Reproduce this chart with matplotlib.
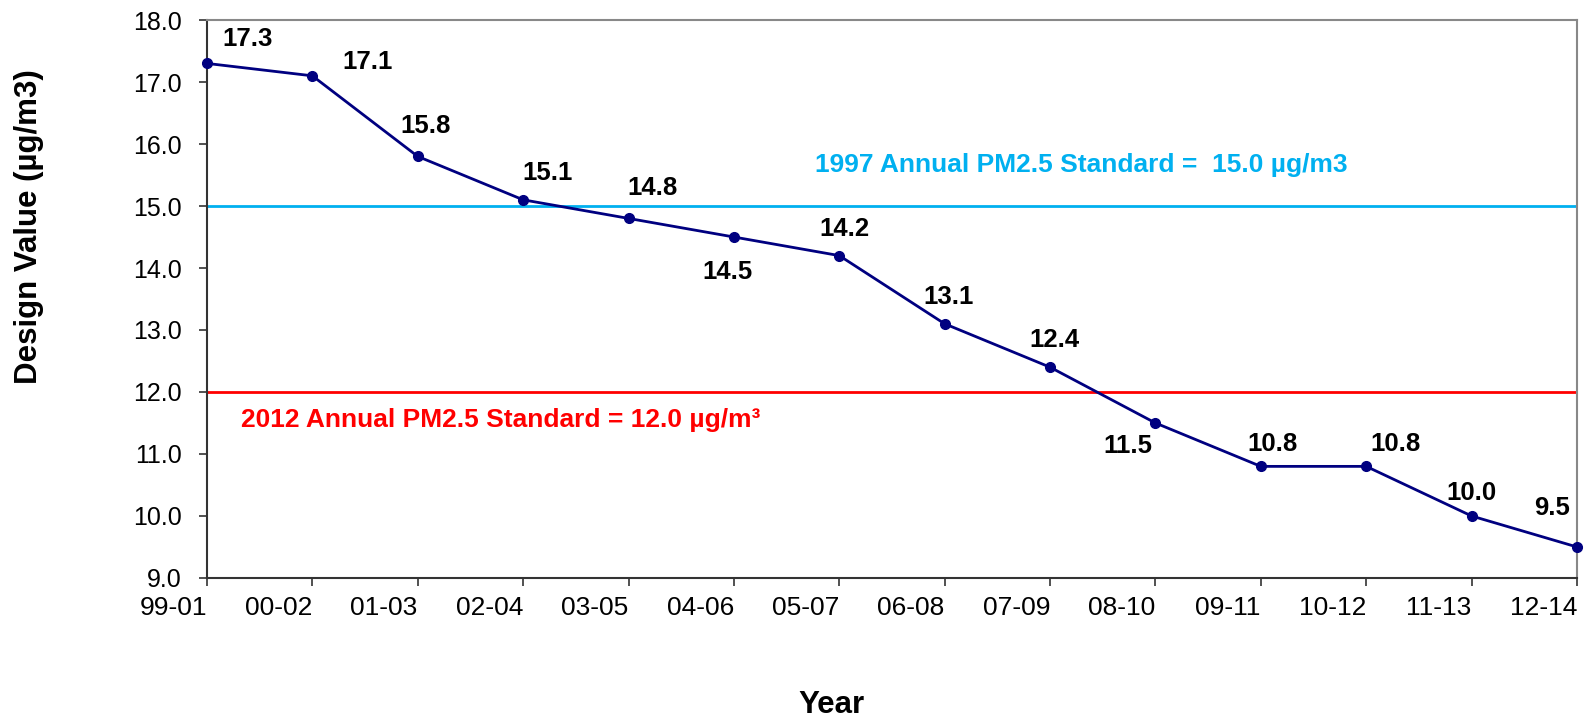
import matplotlib
matplotlib.use('Agg')
import matplotlib.pyplot as plt
import numpy as np

plt.rcParams['font.family'] = ['Liberation Sans', 'DejaVu Sans']

years = ['99-01', '00-02', '01-03', '02-04', '03-05', '04-06', '05-07',
         '06-08', '07-09', '08-10', '09-11', '10-12', '11-13', '12-14']
design_values = [17.3, 17.1, 15.8, 15.1, 14.8, 14.5, 14.2,
                 13.1, 12.4, 11.5, 10.8, 10.8, 10.0, 9.5]
std_1997 = 15.0
std_2012 = 12.0

# label offsets in pixels (dx, dy)
label_offsets = [(41, 24), (55, 14), (8, 30), (24, 27), (24, 30), (-6, -35), (5, 27),
                 (4, 27), (4, 27), (-28, -23), (12, 22), (29, 22), (0, 23), (-25, 39)]

fig = plt.figure(figsize=(15.86, 7.23), dpi=100)
ax = fig.add_axes([0.1305, 0.2006, 0.9943 - 0.1305, 0.9723 - 0.2006])

x = np.arange(len(years))

ax.axhline(std_1997, color='#00B0F0', lw=2, zorder=1)
ax.axhline(std_2012, color='#FF0000', lw=2, zorder=1)

ax.plot(x, design_values, color='#000080', lw=2, marker='o', ms=7,
        clip_on=False, zorder=3)

for xi, v, (dx, dy) in zip(x, design_values, label_offsets):
    ax.annotate(f'{v:.1f}', (xi, v), xytext=(dx, dy), textcoords='offset pixels',
                ha='center', va='center', fontsize=18.5, fontweight='bold')

ax.text(0.444, 0.74, '1997 Annual PM2.5 Standard =  15.0 µg/m3', transform=ax.transAxes,
        color='#00B0F0', fontsize=19, fontweight='bold', va='center', ha='left')
ax.text(0.0245, 0.283, '2012 Annual PM2.5 Standard = 12.0 µg/m³', transform=ax.transAxes,
        color='#FF0000', fontsize=19, fontweight='bold', va='center', ha='left')

ax.set_xlim(0, len(years) - 1)
ax.set_ylim(9, 18)
ax.set_xticks(x)
ax.set_xticklabels(years, ha='right')
ax.set_yticks(np.arange(9, 18.1, 1.0))
ax.set_yticklabels([f'{t:.1f}' for t in np.arange(9, 18.1, 1.0)])
ax.tick_params(axis='both', length=6, width=1.2, color='#333333')
ax.tick_params(axis='x', labelsize=19, pad=7)
ax.tick_params(axis='y', labelsize=18, pad=12)

for s in ['left', 'bottom']:
    ax.spines[s].set_color('#333333')
    ax.spines[s].set_linewidth(1.5)
for s in ['top', 'right']:
    ax.spines[s].set_color('#888888')
    ax.spines[s].set_linewidth(1.5)

fig.text(0.0183, 1 - 227 / 723, 'Design Value (µg/m3)', rotation=90,
         ha='center', va='center', fontsize=22.5, fontweight='bold')
fig.text(831 / 1586, 1 - 705 / 723, 'Year', ha='center', va='center',
         fontsize=22.5, fontweight='bold')

fig.savefig('out.png', dpi=100)
